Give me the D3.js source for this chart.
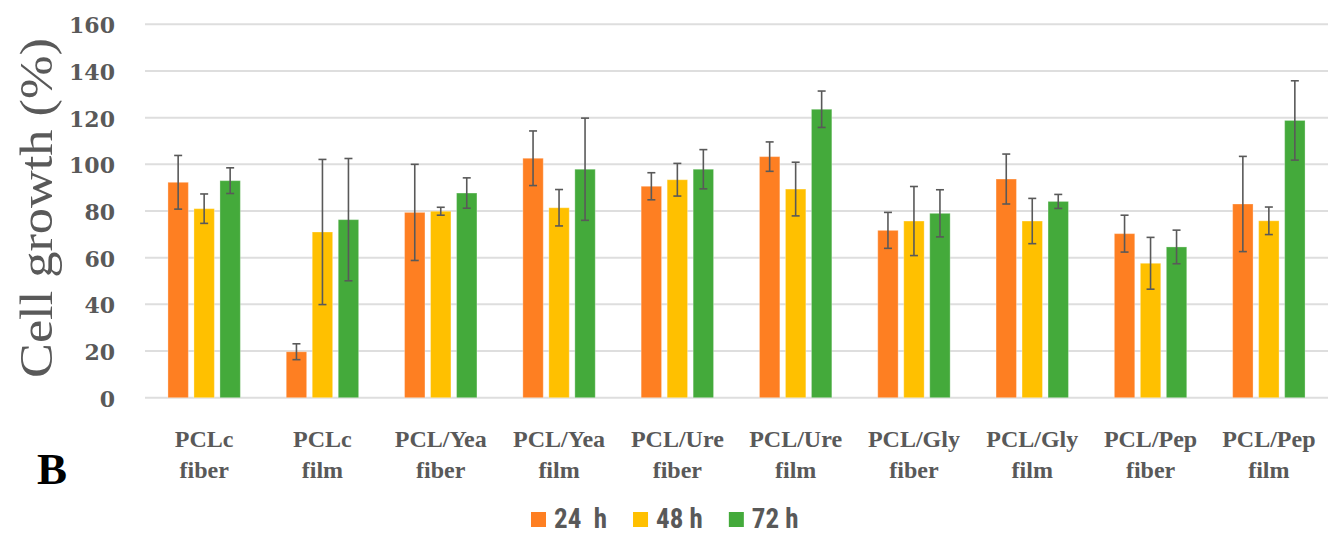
<!DOCTYPE html>
<html>
<head>
<meta charset="utf-8">
<script src="https://cdn.jsdelivr.net/npm/d3@7"></script>
<style>
  body { margin: 0; background: #fff; }
  svg { display: block; }
</style>
</head>
<body>
<svg id="chart" width="1333" height="534"></svg>
<script>
// groups on the x axis, two lines each
var groups = ["PCLc fiber", "PCLc film", "PCL/Yea fiber", "PCL/Yea film", "PCL/Ure fiber",
              "PCL/Ure film", "PCL/Gly fiber", "PCL/Gly film", "PCL/Pep fiber", "PCL/Pep film"];
var series = ["24  h", "48 h", "72 h"];
var colors = ["#fe7f22", "#ffc000", "#44aa3b"];

// mean cell growth (%) per group
var h24 = [92.3, 19.7, 79.4, 102.6, 90.6, 103.3, 71.7, 93.7, 70.3, 83.0];
var h48 = [81.0, 71.0, 79.9, 81.4, 93.4, 89.4, 75.7, 75.7, 57.6, 75.8];
var h72 = [93.0, 76.3, 87.7, 97.9, 97.9, 123.6, 79.0, 84.1, 64.6, 118.8];

// error bar half-lengths
var e24 = [11.5, 3.4, 20.6, 11.7, 5.8, 6.3, 7.7, 10.7, 7.9, 20.4];
var e48 = [6.3, 31.1, 1.7, 7.8, 7.0, 11.5, 14.8, 9.7, 11.1, 5.9];
var e72 = [5.5, 26.2, 6.5, 21.9, 8.4, 7.8, 10.1, 3.0, 7.2, 17.0];

var yTicks = [0, 20, 40, 60, 80, 100, 120, 140, 160];

var values = [h24, h48, h72];
var errors = [e24, e48, e72];

var svg = d3.select("#chart");
var grey = "#595959";
var plotLeft = 145, plotRight = 1328, plotTop = 24.3, plotBottom = 397.7;

var x = d3.scaleBand().domain(groups).range([plotLeft, plotRight]);
var bw = x.bandwidth();
var xs = d3.scaleBand().domain(series).range([bw / 2 - 36.2, bw / 2 + 36.2]).paddingInner(0.215);
var y = d3.scaleLinear().domain([0, 160]).range([plotBottom, plotTop]);

// gridlines
svg.append("g").selectAll("line").data(yTicks).enter().append("line")
    .attr("x1", plotLeft).attr("x2", plotRight)
    .attr("y1", function (d) { return y(d); })
    .attr("y2", function (d) { return y(d); })
    .style("stroke", "#dedede")
    .style("stroke-width", 2);

// y tick labels
svg.append("g").selectAll("text").data(yTicks).enter().append("text")
    .attr("x", 115)
    .attr("y", function (d) { return y(d) + 9; })
    .attr("text-anchor", "end")
    .style("font-family", "'DejaVu Serif', 'Liberation Serif', serif")
    .style("font-weight", "bold")
    .style("font-size", "22px")
    .style("fill", grey)
    .text(function (d) { return d; });

// y title
svg.append("text")
    .attr("transform", "translate(52,208) rotate(-90)")
    .attr("text-anchor", "middle")
    .attr("textLength", 340)
    .attr("lengthAdjust", "spacingAndGlyphs")
    .style("font-family", "'Liberation Serif', 'DejaVu Serif', serif")
    .style("font-size", "46px")
    .style("fill", grey)
    .text("Cell growth (%)");

// bars and error bars
var rows = [];
groups.forEach(function (g, i) {
    series.forEach(function (s, j) {
        rows.push({ group: g, s: s, j: j, v: values[j][i], e: errors[j][i] });
    });
});

var bars = svg.append("g");
bars.selectAll("rect").data(rows).enter().append("rect")
    .attr("x", function (d) { return x(d.group) + xs(d.s); })
    .attr("y", function (d) { return y(d.v); })
    .attr("width", xs.bandwidth())
    .attr("height", function (d) { return y(0) - y(d.v); })
    .style("fill", function (d) { return colors[d.j]; })
    .style("stroke", "rgba(255,255,255,0.3)")
    .style("stroke-width", 1);

var err = svg.append("g")
    .style("stroke", grey)
    .style("stroke-width", 1.6);
rows.forEach(function (d) {
    var cx = x(d.group) + xs(d.s) + xs.bandwidth() / 2;
    var y1 = y(d.v + d.e), y2 = y(d.v - d.e);
    err.append("line").attr("x1", cx).attr("x2", cx).attr("y1", y1).attr("y2", y2);
    err.append("line").attr("x1", cx - 4).attr("x2", cx + 4).attr("y1", y1).attr("y2", y1);
    err.append("line").attr("x1", cx - 4).attr("x2", cx + 4).attr("y1", y2).attr("y2", y2);
});

// x labels (two lines)
var xl = svg.append("g").selectAll("text").data(groups).enter().append("text")
    .attr("text-anchor", "middle")
    .style("font-family", "'Liberation Serif', 'DejaVu Serif', serif")
    .style("font-weight", "bold")
    .style("font-size", "24px")
    .style("fill", grey);
xl.append("tspan")
    .attr("x", function (d) { return x(d) + bw / 2; })
    .attr("y", 447)
    .text(function (d) { return d.split(" ")[0]; });
xl.append("tspan")
    .attr("x", function (d) { return x(d) + bw / 2; })
    .attr("y", 478)
    .text(function (d) { return d.split(" ")[1]; });

// panel letter
svg.append("text")
    .attr("x", 37).attr("y", 484)
    .style("font-family", "'Liberation Serif', 'DejaVu Serif', serif")
    .style("font-weight", "bold")
    .style("font-size", "45px")
    .style("fill", "#000")
    .text("B");

// legend
var lx = 531;
series.forEach(function (s, j) {
    svg.append("rect")
        .attr("x", lx).attr("y", 512)
        .attr("width", 15).attr("height", 15)
        .style("fill", colors[j]);
    var t = svg.append("text")
        .attr("x", lx + 23).attr("y", 528)
        .style("font-family", "'Liberation Sans Narrow', 'Roboto Condensed', 'Liberation Sans', Arial, sans-serif")
        .style("font-weight", "bold")
        .style("font-size", "27px")
        .style("fill", grey)
        .style("white-space", "pre")
        .text(s);
    lx += 23 + t.node().getComputedTextLength() + 26;
});
</script>
</body>
</html>
